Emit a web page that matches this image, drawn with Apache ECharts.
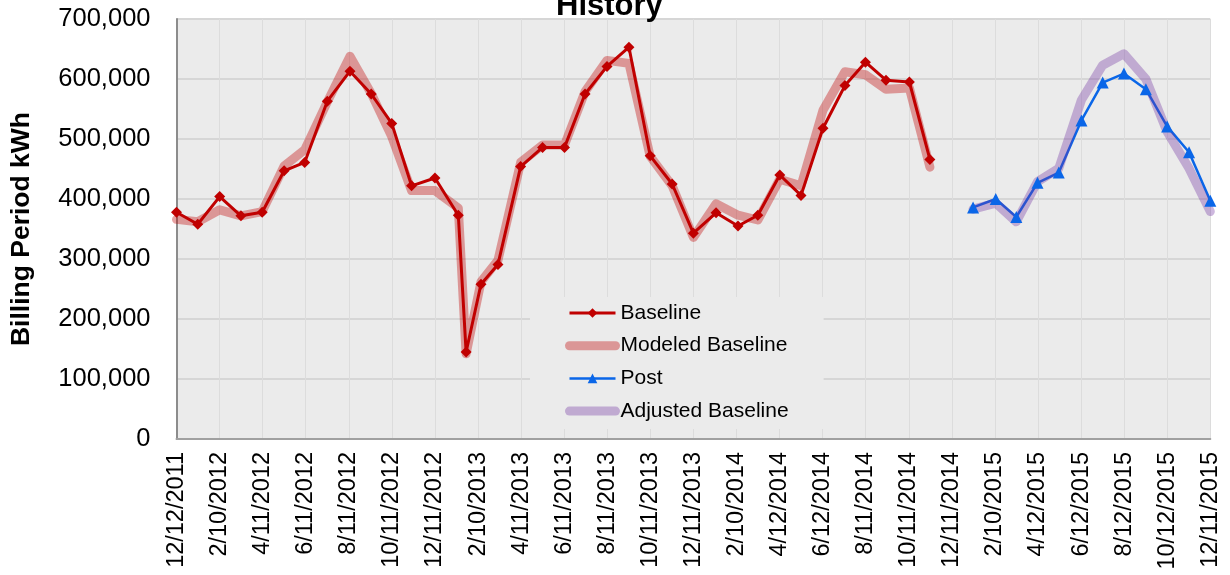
<!DOCTYPE html>
<html>
<head>
<meta charset="utf-8">
<script src="https://cdn.jsdelivr.net/npm/echarts@6/dist/echarts.min.js"></script>
<style>
html,body{margin:0;padding:0;background:#fff;}
#chart{width:1230px;height:575px;}
</style>
</head>
<body>
<div id="chart"></div>
<script>
// ---- data ----
const xTickLabels = ['12/12/2011','2/10/2012','4/11/2012','6/11/2012','8/11/2012','10/11/2012','12/11/2012','2/10/2013','4/11/2013','6/11/2013','8/11/2013','10/11/2013','12/11/2013','2/10/2014','4/12/2014','6/12/2014','8/11/2014','10/11/2014','12/11/2014','2/10/2015','4/12/2015','6/12/2015','8/12/2015','10/12/2015','12/11/2015'];
const axisStartDate = '2011-12-12';
const axisEndDate = '2015-12-11';

const baselineDates = ['2011-12-12','2012-01-11','2012-02-11','2012-03-12','2012-04-11','2012-05-12','2012-06-10','2012-07-12','2012-08-13','2012-09-12','2012-10-11','2012-11-08','2012-12-11','2013-01-13','2013-01-24','2013-02-14','2013-03-10','2013-04-11','2013-05-12','2013-06-12','2013-07-11','2013-08-11','2013-09-11','2013-10-11','2013-11-11','2013-12-11','2014-01-12','2014-02-12','2014-03-12','2014-04-12','2014-05-12','2014-06-12','2014-07-13','2014-08-11','2014-09-09','2014-10-12','2014-11-10'];
const baselineKWh = [378000,358000,404000,372000,378000,447000,461000,563000,613000,575000,526000,422000,435000,373000,145000,258000,291000,454000,486000,486000,575000,621000,653000,472000,425000,343000,377000,355000,373000,440000,406000,518000,589000,628000,598000,595000,466000];
const modeledBaselineKWh = [366000,362000,382000,372000,379000,455000,482000,562000,638000,576000,504000,414000,414000,385000,142000,262000,298000,461000,490000,490000,579000,631000,626000,471000,422000,336000,392000,373000,365000,433000,422000,548000,612000,607000,583000,585000,453000];

const postDates = ['2015-01-10','2015-02-11','2015-03-12','2015-04-11','2015-05-11','2015-06-12','2015-07-12','2015-08-11','2015-09-11','2015-10-11','2015-11-11','2015-12-11'];
const postKWh = [386000,400000,370000,427000,444000,531000,594000,609000,583000,521000,478000,397000];
const adjustedBaselineKWh = [383000,393000,362000,429000,451000,565000,623000,642000,600000,512000,451000,379000];

// ---- helpers ----
function dayNum(s){const p=s.split('-').map(Number);return Date.UTC(p[0],p[1]-1,p[2])/86400000;}
const d0 = dayNum(axisStartDate);
const span = dayNum(axisEndDate) - d0;
const nInt = xTickLabels.length - 1;
// x expressed in tick-interval units (0..24)
function xOf(s){return (dayNum(s)-d0)/span*nInt;}
function pairs(dates, vals){return dates.map((d,i)=>[xOf(d), vals[i]]);}

const C_BASE = '#c00000';
const C_MOD = 'rgba(192,0,0,0.36)';
const C_POST = '#0a66e8';
const C_ADJ = 'rgba(112,48,160,0.35)';

const font = 'Liberation Sans, Arial, sans-serif';
const chart = echarts.init(document.getElementById('chart'));
chart.setOption({
  animation:false,
  backgroundColor:'#ffffff',
  title:{
    text:'History', left:551, top:-14,
    textStyle:{fontFamily:font,fontSize:31,fontWeight:'bold',color:'#000'}
  },
  grid:{left:176.5,right:19.7,top:19,bottom:136,show:true,backgroundColor:'#ebebeb',borderWidth:0,containLabel:false},
  legend:{
    orient:'vertical', left:530, top:297,
    padding:[4,35,6,35],
    backgroundColor:'#ebebeb',
    itemWidth:46, itemHeight:12, itemGap:8.7,
    textStyle:{fontFamily:font,fontSize:21,color:'#000',lineHeight:24},
    data:[
      {name:'Baseline', lineStyle:{width:3}},
      {name:'Modeled Baseline', lineStyle:{width:9,cap:'round'}, itemStyle:{color:'rgba(0,0,0,0)',borderWidth:0}},
      {name:'Post', lineStyle:{width:2.5}},
      {name:'Adjusted Baseline', lineStyle:{width:9,cap:'round'}, itemStyle:{color:'rgba(0,0,0,0)',borderWidth:0}}
    ]
  },
  xAxis:{
    type:'value', min:0, max:nInt, interval:1,
    axisLine:{show:true,onZero:false,lineStyle:{color:'#a0a0a0',width:2}},
    axisTick:{show:false},
    splitLine:{show:true,lineStyle:{color:'#dcdcdc',width:1}},
    axisLabel:{
      rotate:90, margin:13, fontFamily:font, fontSize:23.5, color:'#000',
      formatter:function(v){const i=Math.round(v);return xTickLabels[i]||'';}
    }
  },
  yAxis:{
    type:'value', min:0, max:700000, interval:100000,
    name:'Billing Period kWh', nameLocation:'middle', nameRotate:90, nameGap:141,
    nameTextStyle:{fontFamily:font,fontSize:26.5,fontWeight:'bold',color:'#000'},
    axisLine:{show:true,lineStyle:{color:'#8c8c8c',width:2}},
    axisTick:{show:false},
    splitLine:{show:true,lineStyle:{color:'#d6d6d6',width:2}},
    axisLabel:{
      margin:26, fontFamily:font, fontSize:25.5, color:'#000',
      formatter:function(v){return v.toLocaleString('en-US');}
    }
  },
  series:[
    {
      name:'Baseline', type:'line', data:pairs(baselineDates, baselineKWh),
      symbol:'diamond', symbolSize:11, clip:false,
      lineStyle:{color:C_BASE,width:3},
      itemStyle:{color:C_BASE}
    },
    {
      name:'Modeled Baseline', type:'line', data:pairs(baselineDates, modeledBaselineKWh),
      symbol:'none', showSymbol:false, clip:false,
      lineStyle:{color:C_MOD,width:9,cap:'round',join:'round'},
      itemStyle:{color:C_MOD}
    },
    {
      name:'Post', type:'line', data:pairs(postDates, postKWh),
      symbol:'triangle', symbolSize:12, clip:false,
      lineStyle:{color:C_POST,width:2.5},
      itemStyle:{color:C_POST}
    },
    {
      name:'Adjusted Baseline', type:'line', data:pairs(postDates, adjustedBaselineKWh),
      symbol:'none', showSymbol:false, clip:false,
      lineStyle:{color:C_ADJ,width:9,cap:'round',join:'round'},
      itemStyle:{color:C_ADJ}
    }
  ]
});
</script>
</body>
</html>
